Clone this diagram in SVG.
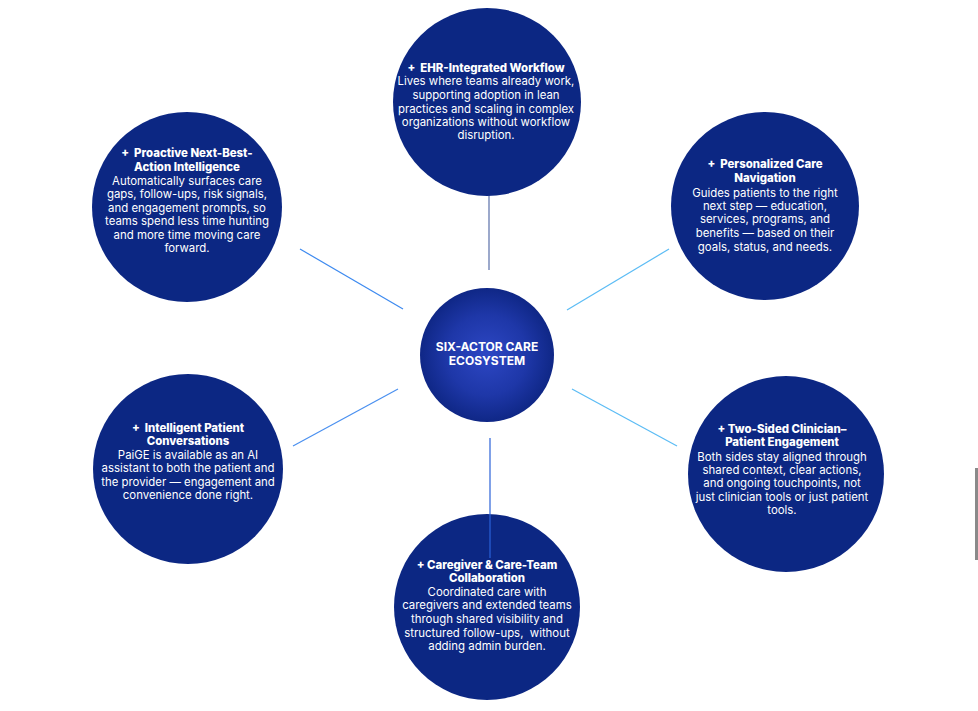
<svg xmlns="http://www.w3.org/2000/svg" width="978" height="711" viewBox="0 0 978 711">
<style>
.node{fill:#0c2783}
.t{font-family:Inter,"Liberation Sans",sans-serif;font-size:11.4px;fill:#ffffff;text-anchor:middle}
.h{font-weight:800}
.conn line{stroke-width:1.2;fill:none}
.center-t{font-family:Inter,"Liberation Sans",sans-serif;font-size:12px;font-weight:700;fill:#ffffff;text-anchor:middle}
</style>
<defs>
<radialGradient id="cg" cx="50%" cy="50%" r="50%">
<stop offset="0" stop-color="#2d47c4"/>
<stop offset="0.6" stop-color="#1e37a8"/>
<stop offset="1" stop-color="#0f2786"/>
</radialGradient>
</defs>
<rect width="978" height="711" fill="#ffffff"/>
<rect x="975" y="468" width="3" height="92" fill="#8a8a8a"/>
<g id="connectors" class="conn">
<line x1="489" y1="195" x2="489" y2="270" stroke="#5a6fa8"/>
<line x1="300" y1="249" x2="403" y2="309" stroke="#3d8af0"/>
<line x1="567" y1="310" x2="669" y2="249" stroke="#5bbcf5"/>
<line x1="293" y1="446" x2="398" y2="389" stroke="#4a90f0"/>
<line x1="572" y1="389" x2="677" y2="446" stroke="#5bbcf5"/>
</g>
<g id="node-center">
<circle cx="487" cy="355" r="67" fill="url(#cg)"/>
<text class="center-t"><tspan x="487" y="351">SIX-ACTOR CARE</tspan><tspan x="487" y="365">ECOSYSTEM</tspan></text>
</g>
<g id="node-ehr">
<circle class="node" cx="487" cy="102" r="94"/>
<text class="t" xml:space="preserve"><tspan class="h" x="486" y="72">+  EHR-Integrated Workflow</tspan><tspan x="486" y="85">Lives where teams already work,</tspan><tspan x="486" y="99">supporting adoption in lean</tspan><tspan x="486" y="113">practices and scaling in complex</tspan><tspan x="486" y="126">organizations without workflow</tspan><tspan x="486" y="139">disruption.</tspan></text>
</g>
<g id="node-proactive">
<circle class="node" cx="187" cy="207" r="95"/>
<text class="t" xml:space="preserve"><tspan class="h" x="187" y="157">+  Proactive Next-Best-</tspan><tspan class="h" x="187" y="171">Action Intelligence</tspan><tspan x="187" y="185">Automatically surfaces care</tspan><tspan x="187" y="198">gaps, follow-ups, risk signals,</tspan><tspan x="187" y="212">and engagement prompts, so</tspan><tspan x="187" y="225">teams spend less time hunting</tspan><tspan x="187" y="239">and more time moving care</tspan><tspan x="187" y="252">forward.</tspan></text>
</g>
<g id="node-navigation">
<circle class="node" cx="765" cy="206" r="94"/>
<text class="t" xml:space="preserve"><tspan class="h" x="765" y="168">+  Personalized Care</tspan><tspan class="h" x="765" y="182">Navigation</tspan><tspan x="765" y="197">Guides patients to the right</tspan><tspan x="765" y="210">next step — education,</tspan><tspan x="765" y="223">services, programs, and</tspan><tspan x="765" y="237">benefits — based on their</tspan><tspan x="765" y="251">goals, status, and needs.</tspan></text>
</g>
<g id="node-conversations">
<circle class="node" cx="188" cy="469" r="95"/>
<text class="t" xml:space="preserve"><tspan class="h" x="188" y="432">+  Intelligent Patient</tspan><tspan class="h" x="188" y="445">Conversations</tspan><tspan x="188" y="459">PaiGE is available as an AI</tspan><tspan x="188" y="472">assistant to both the patient and</tspan><tspan x="188" y="486">the provider — engagement and</tspan><tspan x="188" y="499">convenience done right.</tspan></text>
</g>
<g id="node-two-sided">
<circle class="node" cx="786" cy="474" r="98"/>
<text class="t" xml:space="preserve"><tspan class="h" x="782" y="433">+ Two-Sided Clinician–</tspan><tspan class="h" x="782" y="446">Patient Engagement</tspan><tspan x="782" y="461">Both sides stay aligned through</tspan><tspan x="782" y="474">shared context, clear actions,</tspan><tspan x="782" y="487">and ongoing touchpoints, not</tspan><tspan x="782" y="501">just clinician tools or just patient</tspan><tspan x="782" y="514">tools.</tspan></text>
</g>
<g id="node-caregiver">
<circle class="node" cx="487" cy="607" r="93"/>
<text class="t" xml:space="preserve"><tspan class="h" x="487" y="569">+ Caregiver &amp; Care-Team</tspan><tspan class="h" x="487" y="582">Collaboration</tspan><tspan x="487" y="596">Coordinated care with</tspan><tspan x="487" y="609">caregivers and extended teams</tspan><tspan x="487" y="623">through shared visibility and</tspan><tspan x="487" y="637">structured follow-ups,  without</tspan><tspan x="487" y="650">adding admin burden.</tspan></text>
</g>
<g id="connectors-front" class="conn">
<line x1="490" y1="438" x2="490" y2="558" stroke="#2a62d8"/>
</g>
</svg>
